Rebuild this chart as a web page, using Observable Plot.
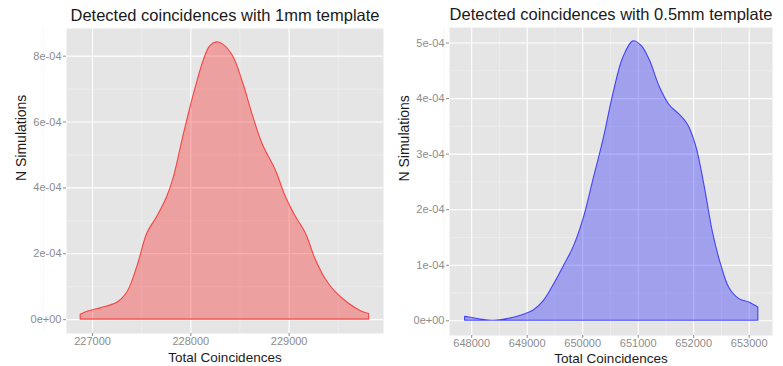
<!DOCTYPE html>
<html><head><meta charset="utf-8">
<script src="https://cdn.jsdelivr.net/npm/d3@7"></script>
<script src="https://cdn.jsdelivr.net/npm/@observablehq/plot@0.6"></script>
<style>
body{margin:0;background:#fff;font-family:"Liberation Sans",Arial,Helvetica,sans-serif}
#wrap{display:flex;width:783px;height:366px;overflow:hidden}
</style>
</head><body><div id="wrap"></div>
<script>
// ---- data: left panel (1mm template) ----
const x1mm = [226879,226956,227090,227258,227358,227459,227559,227660,227760,227827,227928,228028,228129,228196,228263,228330,228430,228531,228631,228732,228866,228966,229067,229168,229268,229369,229469,229603,229737,229814];
const y1mm = [1.5e-5,2.5e-5,3.5e-5,5.3e-5,8.5e-5,1.64e-4,2.63e-4,3.13e-4,3.73e-4,4.32e-4,5.62e-4,6.81e-4,7.85e-4,8.30e-4,8.42e-4,8.35e-4,8.00e-4,7.20e-4,6.20e-4,5.32e-4,4.52e-4,3.73e-4,3.13e-4,2.63e-4,1.84e-4,1.24e-4,8.5e-5,5.0e-5,2.5e-5,1.7e-5];
// ---- data: right panel (0.5mm template) ----
const x05mm = [647881,647958,648167,648406,648644,648883,649122,649301,649480,649659,649838,650017,650196,650375,650554,650733,650912,651061,651210,651389,651568,651747,651897,652046,652196,652345,652494,652644,652823,653000,653165];
const y05mm = [7e-6,6e-6,2.4e-6,0,3e-6,9e-6,1.9e-5,3.6e-5,6.5e-5,9.8e-5,1.33e-4,1.84e-4,2.55e-4,3.26e-4,4.09e-4,4.74e-4,5.03e-4,4.95e-4,4.69e-4,4.21e-4,3.88e-4,3.71e-4,3.53e-4,3.14e-4,2.43e-4,1.60e-4,1.01e-4,5.9e-5,3.9e-5,3.3e-5,2.4e-5];

// ---- tick labels ----
const xTicks1 = [227000,228000,229000];
const xMinor1 = [226500,227500,228500,229500];
const yTicks1 = [0,2e-4,4e-4,6e-4,8e-4];
const yLabels1 = ["0e+00","2e-04","4e-04","6e-04","8e-04"];
const yMinor1 = [1e-4,3e-4,5e-4,7e-4];

const xTicks2 = [648000,649000,650000,651000,652000,653000];
const xMinor2 = [647500,648500,649500,650500,651500,652500];
const yTicks2 = [0,1e-4,2e-4,3e-4,4e-4,5e-4];
const yLabels2 = ["0e+00","1e-04","2e-04","3e-04","4e-04","5e-04"];
const yMinor2 = [5e-5,1.5e-4,2.5e-4,3.5e-4,4.5e-4];

const titles = ["Detected coincidences with 1mm template","Detected coincidences with 0.5mm template"];
const xTitle = "Total Coincidences";
const yTitle = "N Simulations";

function panel(o){
  const data = o.xs.map((x,i)=>({x, y:o.ys[i]}));
  return Plot.plot({
    width:o.width, height:366,
    marginLeft:o.ml, marginRight:o.mr, marginTop:o.mt, marginBottom:o.mb,
    style:{fontFamily:'"Liberation Sans",Arial,sans-serif', background:"#fff"},
    x:{domain:o.xd, label:null},
    y:{domain:o.yd, label:null},
    marks:[
      Plot.frame({fill:"#e5e5e5", stroke:null}),
      Plot.gridX(o.xMinor,{stroke:"#f2f2f2", strokeOpacity:1, strokeWidth:0.6}),
      Plot.gridY(o.yMinor,{stroke:"#f2f2f2", strokeOpacity:1, strokeWidth:0.6}),
      Plot.gridX(o.xTicks,{stroke:"#fff", strokeOpacity:1, strokeWidth:1.1}),
      Plot.gridY(o.yTicks,{stroke:"#fff", strokeOpacity:1, strokeWidth:1.1}),
      Plot.areaY(data,{x:"x", y:"y", curve:"catmull-rom", fill:o.color, fillOpacity:0.3, stroke:o.color, strokeOpacity:0.65, strokeWidth:1.1}),
      Plot.axisX(o.xTicks,{tickSize:3, tickPadding:1, color:"#8c8c8c", fontSize:11, tickFormat:d=>String(d), label:null}),
      Plot.axisY(o.yTicks,{tickSize:3, tickPadding:2, color:"#8c8c8c", fontSize:11, tickFormat:d=>o.yLabels[o.yTicks.indexOf(d)], label:null}),
      Plot.text([o.title],{text:d=>d, frameAnchor:"top", dy:-19, fontSize:16.5, fill:"#1a1a1a"}),
      Plot.text([xTitle],{text:d=>d, frameAnchor:"bottom", dy:o.xdy, fontSize:13.5, fill:"#1a1a1a"}),
      Plot.text([yTitle],{text:d=>d, frameAnchor:"left", dx:-44.5, rotate:-90, fontSize:14, fill:"#1a1a1a"})
    ]
  });
}

const wrap = document.getElementById("wrap");
wrap.append(panel({width:392, ml:66, mr:9, mt:28, mb:33,
  xd:[226735,229960], yd:[-4.2e-5,8.84e-4],
  xs:x1mm, ys:y1mm, color:"red",
  xTicks:xTicks1, xMinor:xMinor1, yTicks:yTicks1, yLabels:yLabels1, yMinor:yMinor1,
  title:titles[0], xdy:28}));
wrap.append(panel({width:391, ml:57, mr:11, mt:27, mb:31,
  xd:[647600,653420], yd:[-2.65e-5,5.28e-4],
  xs:x05mm, ys:y05mm, color:"blue",
  xTicks:xTicks2, xMinor:xMinor2, yTicks:yTicks2, yLabels:yLabels2, yMinor:yMinor2,
  title:titles[1], xdy:27}));
</script></body></html>
